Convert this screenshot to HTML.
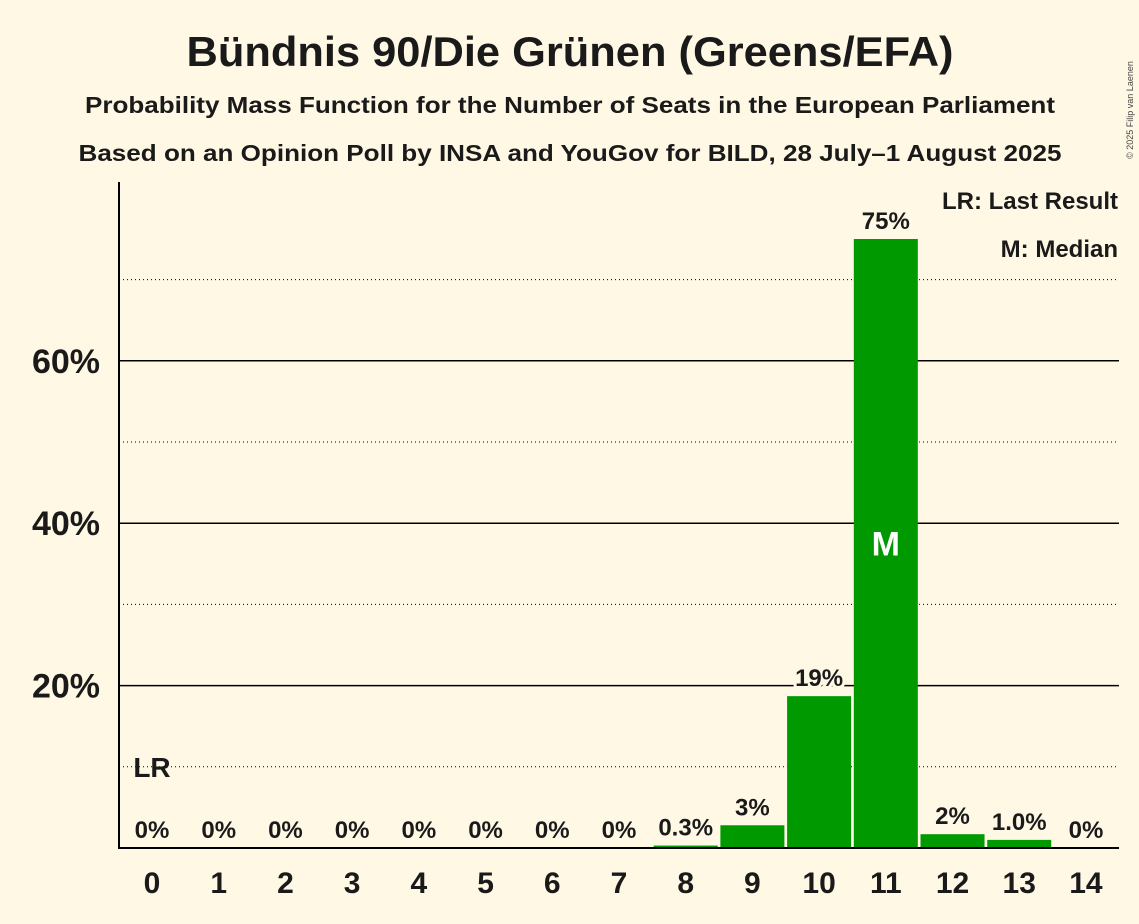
<!DOCTYPE html>
<html><head><meta charset="utf-8"><style>
body{margin:0;background:#fff8e5;}
svg{display:block;font-family:"Liberation Sans",sans-serif;font-weight:bold;}
</style></head><body>
<svg id="c" width="1139" height="924" xmlns="http://www.w3.org/2000/svg">
<rect width="1139" height="924" fill="#fff8e5"/>
<text x="570" y="66" text-anchor="middle" font-size="42" fill="#1a1a1a" textLength="767" lengthAdjust="spacingAndGlyphs">Bündnis 90/Die Grünen (Greens/EFA)</text>
<text x="570" y="113" text-anchor="middle" font-size="23" fill="#1a1a1a" textLength="970" lengthAdjust="spacingAndGlyphs">Probability Mass Function for the Number of Seats in the European Parliament</text>
<text x="570" y="161" text-anchor="middle" font-size="23" fill="#1a1a1a" textLength="983" lengthAdjust="spacingAndGlyphs">Based on an Opinion Poll by INSA and YouGov for BILD, 28 July–1 August 2025</text>
<text x="1133" y="110" font-size="9" font-weight="normal" fill="#444" transform="rotate(-90 1133 110)" text-anchor="middle">© 2025 Filip van Laenen</text>
<g id="grid"></g><g id="bars"></g><g id="labels"></g>
<line x1="119" y1="182" x2="119" y2="849" stroke="#000" stroke-width="2"/>
<line x1="118" y1="848" x2="1119" y2="848" stroke="#000" stroke-width="2"/>
<text x="1118" y="209" text-anchor="end" font-size="24" fill="#1a1a1a">LR: Last Result</text>
<text x="1118" y="257" text-anchor="end" font-size="24" fill="#1a1a1a">M: Median</text>
</svg>
<script>
const categories=[0,1,2,3,4,5,6,7,8,9,10,11,12,13,14];
const values=[0,0,0,0,0,0,0,0,0.3,2.8,18.7,75,1.7,1.0,0];
const valueLabels=["0%","0%","0%","0%","0%","0%","0%","0%","0.3%","3%","19%","75%","2%","1.0%","0%"];
const yTicks=[20,40,60];
const yMinor=[10,30,50,70];
const yTickLabels=["20%","40%","60%"];
const lastResultIndex=0, medianIndex=11;
const NS="http://www.w3.org/2000/svg";
const y=v=>848-v*8.12;
const x=i=>152+i*66.71;
function mk(t,a,p){const e=document.createElementNS(NS,t);for(const k in a)e.setAttribute(k,a[k]);p.appendChild(e);return e;}
const g=document.getElementById('grid'),b=document.getElementById('bars'),l=document.getElementById('labels');
yMinor.forEach(v=>{const e=mk('line',{x1:119,x2:1119,y1:y(v),y2:y(v),stroke:'#000','stroke-width':1,'stroke-dasharray':'1,3'},g);

});
yTicks.forEach((v,i)=>{const e=mk('line',{x1:119,x2:1119,y1:y(v),y2:y(v),stroke:'#000','stroke-width':1.5},g);


const t=mk('text',{x:100,y:y(v)+12,'text-anchor':'end','font-size':34,fill:'#1a1a1a'},g);t.textContent=yTickLabels[i];

});
categories.forEach((c,i)=>{
 const v=values[i];
 if(v>0){const r=mk('rect',{x:x(i)-32,y:y(v),width:64,height:848-y(v),fill:'#009900'},b);
 
 }
 const vl=mk('text',{x:x(i),y:y(v)-10,'text-anchor':'middle','font-size':24,fill:'#1a1a1a',stroke:'#fff8e5','stroke-width':6,'paint-order':'stroke'},l);
 vl.textContent=valueLabels[i];
 
 
 const xt=mk('text',{x:x(i),y:893,'text-anchor':'middle','font-size':30,fill:'#1a1a1a'},l);
 xt.textContent=c;
 
 
});
const lr=mk('text',{x:x(lastResultIndex),y:y(10)+10,'text-anchor':'middle','font-size':28,fill:'#1a1a1a'},l);lr.textContent='LR';


const m=mk('text',{x:x(medianIndex),y:y(values[medianIndex]/2)+12,'text-anchor':'middle','font-size':34,fill:'#fff'},l);m.textContent='M';


</script>
</body></html>
